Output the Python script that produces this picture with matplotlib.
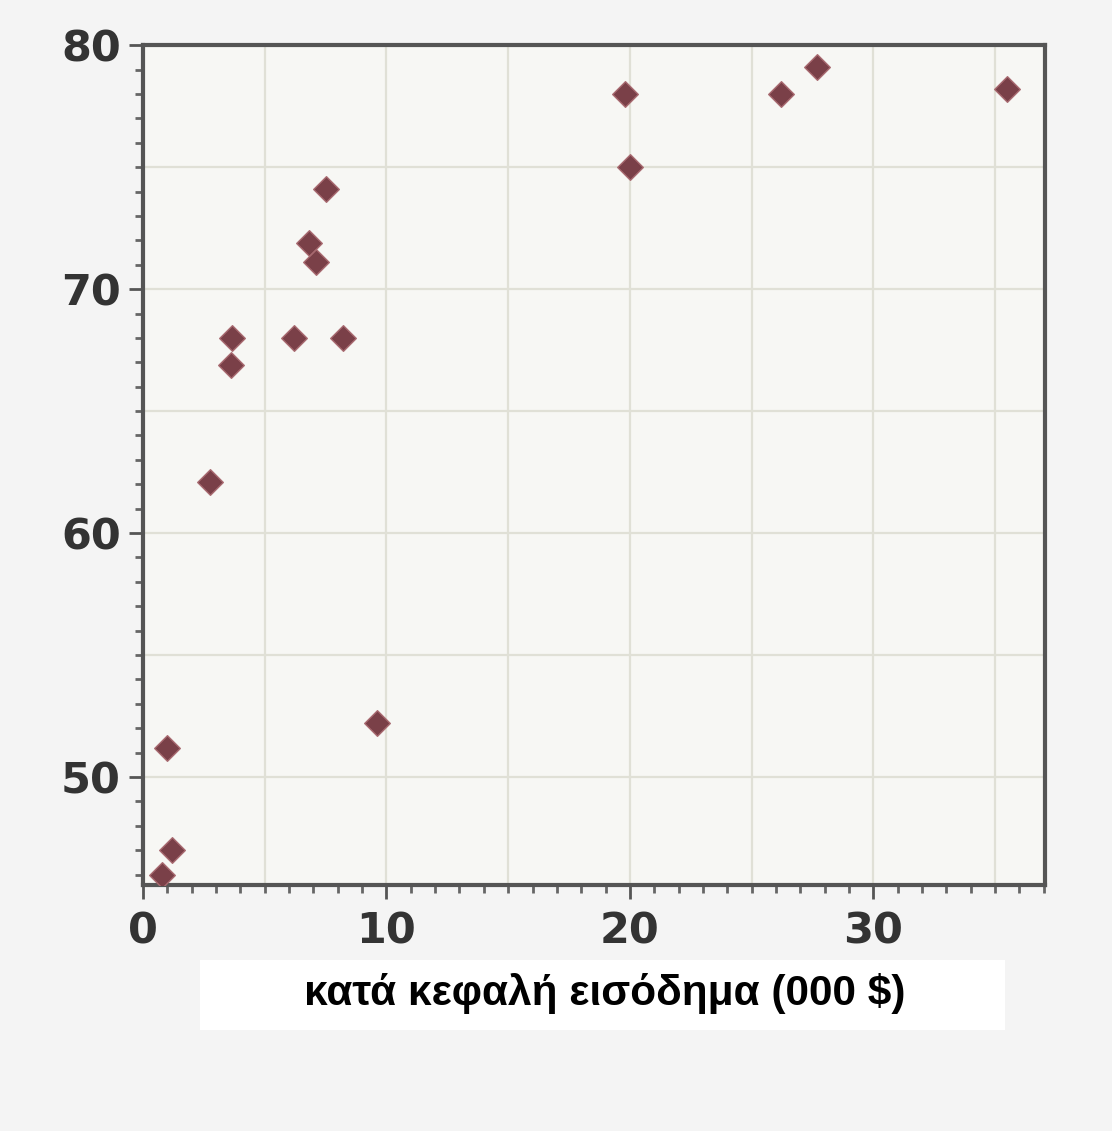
import matplotlib
matplotlib.use('Agg')
import matplotlib.pyplot as plt
from matplotlib import font_manager
from matplotlib.patches import Rectangle
from matplotlib.ticker import MultipleLocator

# κατά κεφαλή εισόδημα (χιλ. $) και τιμές y, διαβασμένα από την εικόνα
income = [19.8, 20.0, 26.2, 27.7, 35.5, 7.5, 6.8, 7.1, 3.65, 3.6, 6.2, 8.2,
          2.75, 9.6, 1.0, 1.2, 0.8]
values = [78.0, 75.0, 78.0, 79.1, 78.2, 74.1, 71.9, 71.1, 68.0, 66.9, 68.0, 68.0,
          62.1, 52.2, 51.2, 47.0, 46.0]

x_ticks = [0, 10, 20, 30]
y_ticks = [50, 60, 70, 80]
x_label = "κατά κεφαλή εισόδημα (000 $)"

# Liberation Sans Bold (not the Narrow one)
label_font = None
for f in font_manager.fontManager.ttflist:
    if f.name == 'Liberation Sans' and f.weight in (700, 'bold') and f.style == 'normal' \
            and 'Narrow' not in f.fname:
        label_font = font_manager.FontProperties(fname=f.fname, size=30.5)
        break
if label_font is None:
    label_font = font_manager.FontProperties(family='DejaVu Sans', weight='bold', size=27)

fig = plt.figure(figsize=(11.12, 11.31), dpi=100, facecolor='#f4f4f4')
ax = fig.add_axes([0.1286, 0.2175, 0.8111, 0.7425])
ax.set_facecolor('#f7f7f4')

ax.scatter(income, values, marker='D', s=170, color='#7a4048',
           edgecolors='#a86a70', linewidths=1.0, zorder=3)

ax.set_xlim(0, 37.05)
ax.set_ylim(45.57, 80)
ax.set_xticks(x_ticks)
ax.set_yticks(y_ticks)
ax.xaxis.set_minor_locator(MultipleLocator(1))
ax.yaxis.set_minor_locator(MultipleLocator(1))

# grid every 5 units
for g in range(5, 37, 5):
    ax.axvline(g, color='#e0e0d6', lw=1.6, zorder=1)
for g in range(50, 80, 5):
    ax.axhline(g, color='#e0e0d6', lw=1.6, zorder=1)

for s in ['left', 'bottom', 'top', 'right']:
    ax.spines[s].set_color('#555555')
    ax.spines[s].set_linewidth(3)

ax.tick_params(axis='both', which='major', direction='out', length=10, width=2,
               color='#555555', labelsize=31, labelcolor='#333333')
ax.tick_params(axis='x', which='major', pad=8)
ax.tick_params(axis='y', which='major', pad=6)
ax.tick_params(axis='both', which='minor', direction='out', length=6, width=2,
               color='#666666')
for lab in ax.get_xticklabels() + ax.get_yticklabels():
    lab.set_fontweight('bold')

# white box with axis label
fig.patches.append(Rectangle((200 / 1112, 1 - 1030 / 1131), 805 / 1112, 70 / 1131,
                             transform=fig.transFigure, facecolor='white',
                             edgecolor='none', zorder=5))
fig.text(605 / 1112, 1 - 993 / 1131, x_label, ha='center', va='center',
         fontproperties=label_font, color='black', zorder=6)

fig.savefig('out.png', dpi=100, facecolor=fig.get_facecolor())
